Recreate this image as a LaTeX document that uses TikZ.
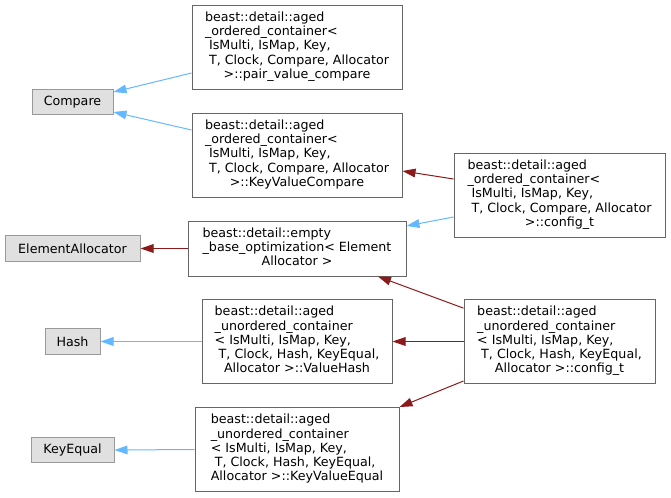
\documentclass[tikz,border=0pt]{standalone}
\usepackage{fontspec}
\setmainfont{DejaVu Sans}
\usepackage{xcolor}
\usetikzlibrary{arrows.meta}
\definecolor{pubblue}{HTML}{63B8FF}
\definecolor{privred}{HTML}{8B1A1A}
\definecolor{extfill}{HTML}{E0E0E0}
\definecolor{extborder}{HTML}{999999}
\definecolor{clsborder}{HTML}{666666}
\begin{document}
\begin{tikzpicture}[x=0.75pt,y=-0.75pt,
  every node/.style={font=\fontsize{9.5}{10.7}\selectfont, inner sep=0pt},
  extclass/.style={draw=extborder, fill=extfill, line width=0.75pt, minimum height=19pt},
  docclass/.style={draw=clsborder, fill=white, line width=0.75pt, minimum height=63pt},
  pubinherit/.style={draw=pubblue, line width=0.75pt, -{Triangle[length=9.75pt,width=6.5pt]}},
  privinherit/.style={draw=privred, line width=0.75pt, -{Triangle[length=9.75pt,width=6.5pt]}}]
\useasboundingbox (0,0) rectangle (671,497);

% base classes on the left
\node[extclass, minimum width=60.75pt] (compare) at (72.5,102) {Compare};
\node[extclass, minimum width=101.25pt] (elemalloc) at (72.5,248.5) {ElementAllocator};
\node[extclass, minimum width=41.25pt] (hash) at (72.5,341.5) {Hash};
\node[extclass, minimum width=62.25pt] (keyequal) at (72.5,450) {KeyEqual};

% middle column
\node[docclass, minimum width=157.5pt] (pairvalcmp) at (297,47) {\begin{tabular}{@{}l@{}}
beast::detail::aged\\ \_ordered\_container<\\ ~IsMulti, IsMap, Key,\\ ~T, Clock, Compare, Allocator\\
\multicolumn{1}{@{}c@{}}{>::pair\_value\_compare}\end{tabular}};
\node[docclass, minimum width=157.5pt] (keyvalcmp) at (297,155) {\begin{tabular}{@{}l@{}}
beast::detail::aged\\ \_ordered\_container<\\ ~IsMulti, IsMap, Key,\\ ~T, Clock, Compare, Allocator\\
\multicolumn{1}{@{}c@{}}{>::KeyValueCompare}\end{tabular}};
\node[docclass, minimum width=163.5pt, minimum height=41.25pt] (emptybase) at (297,248.5) {\begin{tabular}{@{}l@{}}
beast::detail::empty\\ \_base\_optimization< Element\\
\multicolumn{1}{@{}c@{}}{Allocator >}\end{tabular}};
\node[docclass, minimum width=142.5pt] (valuehash) at (297,341.5) {\begin{tabular}{@{}l@{}}
beast::detail::aged\\ \_unordered\_container\\ < IsMulti, IsMap, Key,\\ ~T, Clock, Hash, KeyEqual,\\
\multicolumn{1}{@{}c@{}}{Allocator >::ValueHash}\end{tabular}};
\node[docclass, minimum width=153pt] (keyvaleq) at (297,449.5) {\begin{tabular}{@{}l@{}}
beast::detail::aged\\ \_unordered\_container\\ < IsMulti, IsMap, Key,\\ ~T, Clock, Hash, KeyEqual,\\
\multicolumn{1}{@{}c@{}}{Allocator >::KeyValueEqual}\end{tabular}};

% config classes on the right
\node[docclass, minimum width=158.25pt] (ordconfig) at (559.5,195) {\begin{tabular}{@{}l@{}}
beast::detail::aged\\ \_ordered\_container<\\ ~IsMulti, IsMap, Key,\\ ~T, Clock, Compare, Allocator\\
\multicolumn{1}{@{}c@{}}{>::config\_t}\end{tabular}};
\node[docclass, minimum width=143.25pt] (unordconfig) at (559.5,341.5) {\begin{tabular}{@{}l@{}}
beast::detail::aged\\ \_unordered\_container\\ < IsMulti, IsMap, Key,\\ ~T, Clock, Hash, KeyEqual,\\
\multicolumn{1}{@{}c@{}}{Allocator >::config\_t}\end{tabular}};

% inheritance
\draw[pubinherit] ([yshift=-19.5pt]pairvalcmp.west) -- ([yshift=7.5pt]compare.east);
\draw[pubinherit] ([yshift=18.75pt]keyvalcmp.west) -- ([yshift=-7.5pt]compare.east);
\draw[privinherit] (emptybase.west) -- (elemalloc.east);
\draw[pubinherit] (valuehash.west) -- (hash.east);
\draw[pubinherit] (keyvaleq.west) -- (keyequal.east);
\draw[privinherit] ([yshift=12pt]ordconfig.west) -- ([yshift=-12pt]keyvalcmp.east);
\draw[pubinherit] ([yshift=-16.5pt]ordconfig.west) -- ([yshift=16.9pt]emptybase.east);
\draw[privinherit] ([yshift=25pt]unordconfig.west) -- ([xshift=60.75pt]emptybase.south);
\draw[privinherit] (unordconfig.west) -- (valuehash.east);
\draw[privinherit] ([yshift=-29.6pt]unordconfig.west) -- (keyvaleq.north east);
\end{tikzpicture}
\end{document}
